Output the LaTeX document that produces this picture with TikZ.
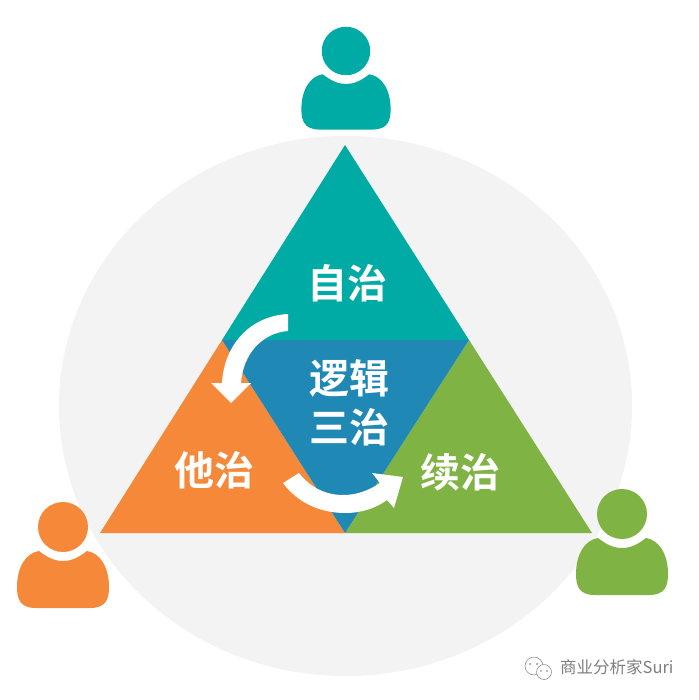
\documentclass[tikz,border=0pt]{standalone}
\usepackage{fontspec}
\newfontfamily\cjk{Noto Sans CJK SC}[BoldFont={* Bold}]
\newfontfamily\cjkm{Noto Sans CJK SC}
\definecolor{tealc}{HTML}{00ABA6}
\definecolor{orangec}{HTML}{F58839}
\definecolor{greenc}{HTML}{7FB344}
\definecolor{bluec}{HTML}{2088B4}
\definecolor{backc}{HTML}{F3F3F3}
\definecolor{markc}{HTML}{808080}
\tikzset{
  person/.pic={
    \fill[pic actions] (0,0) circle [radius=25pt];
    \fill[pic actions] (-24,24) .. controls (-15,31) and (-8,34) .. (0,34)
      .. controls (8,34) and (15,31) .. (24,24)
      .. controls (37,26) and (46,40) .. (46,60)
      .. controls (46,72) and (43,81) .. (27,81) -- (-27,81)
      .. controls (-43,81) and (-46,72) .. (-46,60)
      .. controls (-46,40) and (-37,26) .. (-24,24) -- cycle;
  },
  label text/.style={text=white,font=\cjk\bfseries\fontsize{40}{49}\selectfont,align=center,inner sep=0pt},
  mark text/.style={text=markc,font=\cjkm\fontsize{16.5}{18}\selectfont,inner sep=0pt,anchor=west},
  flow arrow/.style={fill=white,draw=none}
}
\begin{document}
\begin{tikzpicture}[x=1pt,y=-1pt]
\useasboundingbox (0,0) rectangle (698,700);
\fill[white] (0,0) rectangle (698,700);
\fill[backc] (345.5,406) ellipse [x radius=286.5pt,y radius=270pt];
% triangles
\fill[tealc] (345,145) -- (469,340) -- (222,340) -- cycle;
\fill[orangec] (222,340) -- (345,533) -- (100,533) -- cycle;
\fill[greenc] (469,340) -- (592,533) -- (345,533) -- cycle;
\fill[bluec] (222,340) -- (469,340) -- (345,533) -- cycle;
% persons
\path pic[fill=tealc,scale=0.97] at (346,51) {person};
\path pic[fill=orangec] at (63,527) {person};
\path pic[fill=greenc] at (622,514) {person};
% arrows
\fill[flow arrow] (288,314) .. controls (250,316) and (224,345) .. (222,383)
  -- (211,383) -- (231,403) -- (251,383) -- (241,383)
  .. controls (243,354) and (262,333) .. (288,331) -- cycle;
\fill[flow arrow] (283,483) .. controls (300,506) and (325,513) .. (345,513)
  .. controls (362,513) and (376,508) .. (387,500) -- (394,508) -- (403,477) -- (372,473) -- (380,483)
  .. controls (368,491) and (356,495) .. (343,495)
  .. controls (325,495) and (310,487) .. (299,473) -- cycle;
% labels
\node[label text] (self) at (347,283) {自治};
\node[label text] (logic) at (349,403) {逻辑\\三治};
\node[label text] (other) at (214,470) {他治};
\node[label text] (cont) at (460,472) {续治};
% watermark
\draw[markc,line width=0.5pt,fill=white] (534,666) circle [radius=9pt];
\draw[markc,line width=0.5pt,fill=white] (544,672) circle [radius=7.5pt];
\fill[markc] (530,664) circle [radius=1pt] (537,664) circle [radius=1pt] (541,671) circle [radius=0.8pt] (547,671) circle [radius=0.8pt];
\node[mark text] (brand) at (560,667) {商业分析家Suri};
\end{tikzpicture}
\end{document}
